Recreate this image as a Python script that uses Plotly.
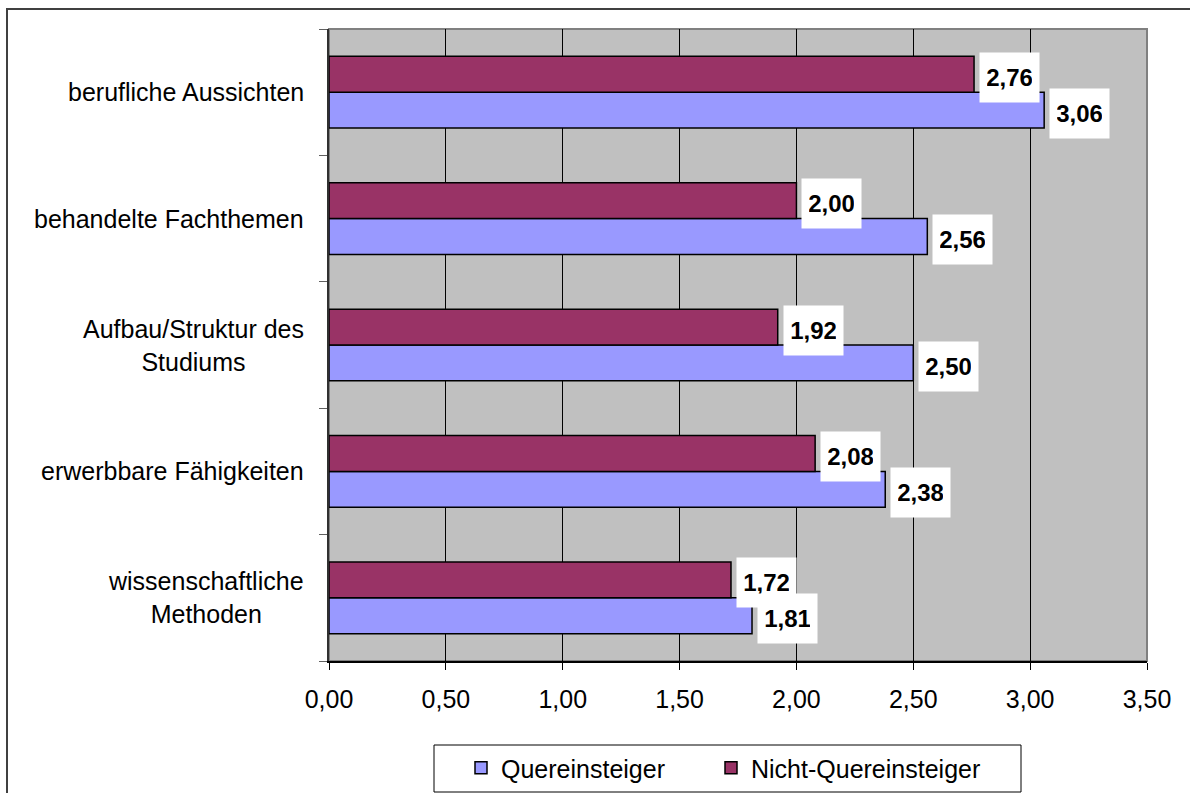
import plotly.graph_objects as go

# Data (bottom to top)
categories = [
    "wissenschaftliche<br>Methoden",
    "erwerbbare Fähigkeiten",
    "Aufbau/Struktur des<br>Studiums",
    "behandelte Fachthemen",
    "berufliche Aussichten",
]
quereinsteiger = [1.81, 2.38, 2.50, 2.56, 3.06]
nicht_quereinsteiger = [1.72, 2.08, 1.92, 2.00, 2.76]
x_ticks = [0, 0.5, 1.0, 1.5, 2.0, 2.5, 3.0, 3.5]

FONT = "Liberation Sans, Arial, sans-serif"
W, H = 1190, 793
ML, MR, MT, MB = 329, 43, 29, 132
PW, PH = W - ML - MR, H - MT - MB


def px_x(p):
    return (p - ML) / PW


def px_y(p):
    return (H - MB - p) / PH


def fmt(v):
    return f"{v:.2f}".replace(".", ",")


fig = go.Figure()
fig.add_trace(go.Bar(
    y=categories, x=quereinsteiger, orientation="h", name="Quereinsteiger",
    marker=dict(color="#9999FF", line=dict(color="black", width=1.5)),
    legend="legend",
))
fig.add_trace(go.Bar(
    y=categories, x=nicht_quereinsteiger, orientation="h", name="Nicht-Quereinsteiger",
    marker=dict(color="#993366", line=dict(color="black", width=1.5)),
    legend="legend2",
))

annotations = []
# value labels with white boxes
for vals, ysh in ((nicht_quereinsteiger, 15), (quereinsteiger, -21)):
    for c, v in zip(categories, vals):
        annotations.append(dict(
            x=v, y=c, xref="x", yref="y", text="<b>" + fmt(v) + "</b>",
            showarrow=False, xanchor="left", yanchor="middle", xshift=5, yshift=ysh,
            bgcolor="white", borderpad=7, width=45, height=35, align="center",
            font=dict(family=FONT, size=24, color="black"),
        ))
# category labels (centered multi-line)
for c in categories:
    annotations.append(dict(
        x=0, y=c, xref="paper", yref="y", text=c, showarrow=False,
        xanchor="right", yanchor="middle", xshift=-23, align="center",
        font=dict(family=FONT, size=25, color="black"),
    ))

shapes = [
    # outer chart frame
    dict(type="rect", xref="paper", yref="paper", x0=px_x(7), x1=px_x(1205),
         y0=px_y(805), y1=px_y(9), line=dict(color="#404040", width=2), layer="below"),
    # plot area border
    dict(type="rect", xref="paper", yref="paper", x0=0, x1=1, y0=0, y1=1,
         line=dict(color="#808080", width=2), layer="below"),
    # legend box
    dict(type="rect", xref="paper", yref="paper", x0=px_x(434), x1=px_x(1021),
         y0=px_y(792), y1=px_y(745), line=dict(color="black", width=1),
         fillcolor="white", layer="below"),
]

legend_common = dict(
    orientation="h", xanchor="left", yanchor="middle",
    bgcolor="rgba(0,0,0,0)", borderwidth=0,
    font=dict(family=FONT, size=25, color="black"),
)

fig.update_layout(
    width=W, height=H,
    margin=dict(l=ML, r=MR, t=MT, b=MB, pad=0, autoexpand=False),
    paper_bgcolor="white", plot_bgcolor="#C0C0C0",
    barmode="group", bargap=0.433, bargroupgap=0,
    separators=",.",
    font=dict(family=FONT, size=25, color="black"),
    showlegend=True,
    legend=dict(x=px_x(461), y=px_y(768), **legend_common),
    legend2=dict(x=px_x(711), y=px_y(768), **legend_common),
    annotations=annotations,
    shapes=shapes,
)
fig.update_xaxes(
    range=[0, 3.5], tickvals=x_ticks, tickformat=".2f",
    showgrid=True, gridcolor="black", gridwidth=1, zeroline=False,
    showline=True, linecolor="black", linewidth=1.5,
    ticks="outside", ticklen=7, tickcolor="black", tickwidth=1,
    ticklabelstandoff=8,
    tickfont=dict(family=FONT, size=25, color="black"),
)
fig.update_yaxes(
    showticklabels=False, showgrid=False, zeroline=False,
    tickson="boundaries", ticks="outside", ticklen=8, tickcolor="#606060", tickwidth=1,
    showline=True, linecolor="#303030", linewidth=1.5,
)

fig.write_html(
    "out.html",
    config={"displayModeBar": False},
    post_script="document.body.style.margin='0px';",
)
